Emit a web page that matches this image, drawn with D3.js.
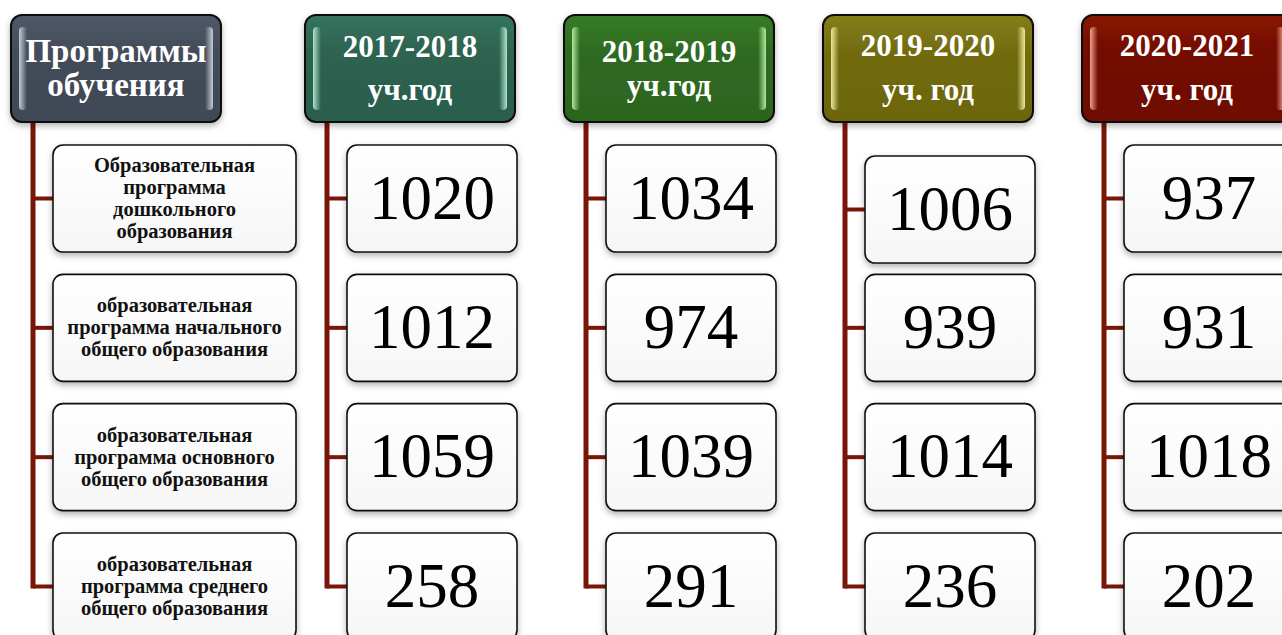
<!DOCTYPE html>
<html>
<head>
<meta charset="utf-8">
<script src="https://cdn.jsdelivr.net/npm/d3@7"></script>
<style>
  html, body { margin: 0; padding: 0; background: #fff; overflow: hidden; }
  svg { display: block; }
</style>
</head>
<body>
<div id="chart"></div>
<script>
// data
const programTitle = ["Программы", "обучения"];
const programs = [
    ["Образовательная", "программа", "дошкольного", "образования"],
    ["образовательная", "программа начального", "общего образования"],
    ["образовательная", "программа основного", "общего образования"],
    ["образовательная", "программа среднего", "общего образования"]
];
const years = ["2017-2018", "2018-2019", "2019-2020", "2020-2021"];
const yearUnits = ["уч.год", "уч.год", "уч. год", "уч. год"];
const counts = [
    [1020, 1012, 1059, 258],
    [1034, 974, 1039, 291],
    [1006, 939, 1014, 236],
    [937, 931, 1018, 202]
];

// header colours: label column first, then one per year
const headColors = ["#434c59", "#2d6350", "#2e6a21", "#726b11", "#731005"];
const glossColors = ["#c9d2dc", "#b4ecd2", "#b6f0a0", "#f2f0a0", "#f5a898"];

const width = 1282;
const height = 635;
const lineColor = "#7a1508";
const serif = "'Liberation Serif', 'Times New Roman', serif";

const headW = 210, headH = 107, headTop = 15;
const boxH = 107;
const lineOff = 22;   // connector x from column left
const boxOff = 42;    // child box x from column left

const xYear = d3.scaleLinear().domain([0, years.length - 1]).range([305, 1082]);
const xLabel = 11;
const yRow = d3.scaleLinear().domain([0, programs.length - 1]).range([145, 533]);

let svg = d3.select("#chart").append("svg")
    .attr("width", width)
    .attr("height", height)
    .attr("viewBox", [0, 0, width, height]);

let defs = svg.append("defs");

let shadow = defs.append("filter").attr("id", "shadow")
    .attr("x", "-10%").attr("y", "-10%").attr("width", "120%").attr("height", "130%");
shadow.append("feDropShadow")
    .attr("dx", 0).attr("dy", 3).attr("stdDeviation", 3)
    .attr("flood-color", "#000").attr("flood-opacity", 0.3);

headColors.forEach((c, i) => {
    let g = defs.append("linearGradient").attr("id", "head" + i)
        .attr("x1", 0).attr("y1", 0).attr("x2", 0).attr("y2", 1);
    g.append("stop").attr("offset", "0%").attr("stop-color", d3.color(c).brighter(0.45));
    g.append("stop").attr("offset", "35%").attr("stop-color", c);
    g.append("stop").attr("offset", "100%").attr("stop-color", d3.color(c).darker(0.15));

    let gl = defs.append("linearGradient").attr("id", "glossL" + i)
        .attr("x1", 0).attr("y1", 0).attr("x2", 1).attr("y2", 0);
    gl.append("stop").attr("offset", "0%").attr("stop-color", glossColors[i]).attr("stop-opacity", 0.95);
    gl.append("stop").attr("offset", "100%").attr("stop-color", glossColors[i]).attr("stop-opacity", 0);
    let gr = defs.append("linearGradient").attr("id", "glossR" + i)
        .attr("x1", 1).attr("y1", 0).attr("x2", 0).attr("y2", 0);
    gr.append("stop").attr("offset", "0%").attr("stop-color", glossColors[i]).attr("stop-opacity", 0.95);
    gr.append("stop").attr("offset", "100%").attr("stop-color", glossColors[i]).attr("stop-opacity", 0);
});

let boxGrad = defs.append("linearGradient").attr("id", "boxFill")
    .attr("x1", 0).attr("y1", 0).attr("x2", 0).attr("y2", 1);
boxGrad.append("stop").attr("offset", "0%").attr("stop-color", "#ffffff");
boxGrad.append("stop").attr("offset", "100%").attr("stop-color", "#f6f6f6");

// one column: header + connector + children
function drawColumn(x0, idx, rows, headLines, headBaselines, headSize, childFn) {
    let g = svg.append("g");

    // connector
    let lastMid = d3.max(rows, r => r.y + boxH / 2);
    g.append("line")
        .attr("x1", x0 + lineOff).attr("x2", x0 + lineOff)
        .attr("y1", headTop + headH - 4).attr("y2", lastMid + 2)
        .attr("stroke", lineColor).attr("stroke-width", 5);
    g.selectAll("line.branch").data(rows).join("line")
        .attr("class", "branch")
        .attr("x1", x0 + lineOff).attr("x2", d => d.x)
        .attr("y1", d => d.y + boxH / 2).attr("y2", d => d.y + boxH / 2)
        .attr("stroke", lineColor).attr("stroke-width", 4);

    // header
    g.append("rect")
        .attr("x", x0).attr("y", headTop)
        .attr("width", headW).attr("height", headH)
        .attr("rx", 11)
        .attr("fill", "url(#head" + idx + ")")
        .attr("stroke", "#111").attr("stroke-width", 2)
        .attr("filter", "url(#shadow)");
    g.append("rect")
        .attr("x", x0 + 8).attr("y", headTop + 12)
        .attr("width", 8).attr("height", headH - 24).attr("rx", 4)
        .attr("fill", "url(#glossL" + idx + ")");
    g.append("rect")
        .attr("x", x0 + headW - 16).attr("y", headTop + 12)
        .attr("width", 8).attr("height", headH - 24).attr("rx", 4)
        .attr("fill", "url(#glossR" + idx + ")");
    g.selectAll("text.head").data(headLines).join("text")
        .attr("class", "head")
        .attr("x", x0 + headW / 2)
        .attr("y", (d, i) => headBaselines[i])
        .attr("text-anchor", "middle")
        .attr("font-family", serif)
        .attr("font-weight", "bold")
        .attr("font-size", headSize)
        .attr("fill", "#fff")
        .text(d => d);

    // children
    let cells = g.selectAll("g.cell").data(rows).join("g").attr("class", "cell");
    cells.append("rect")
        .attr("x", d => d.x).attr("y", d => d.y)
        .attr("width", d => d.w).attr("height", boxH)
        .attr("rx", 10)
        .attr("fill", "url(#boxFill)")
        .attr("stroke", "#111").attr("stroke-width", 1.6)
        .attr("filter", "url(#shadow)");
    cells.each(function (d) { childFn(d3.select(this), d); });
}

// label column
let labelRows = programs.map((p, i) => ({x: xLabel + boxOff, y: yRow(i), w: 243, lines: p}));
drawColumn(xLabel, 0, labelRows, programTitle, [62, 96], 33, (sel, d) => {
    let n = d.lines.length;
    let cy = d.y + boxH / 2;
    sel.selectAll("text").data(d.lines).join("text")
        .attr("x", d.x + d.w / 2)
        .attr("y", (t, i) => cy + (i - (n - 1) / 2) * 22 + 6.5)
        .attr("text-anchor", "middle")
        .attr("font-family", serif)
        .attr("font-weight", "bold")
        .attr("font-size", 20.5)
        .attr("fill", "#111")
        .text(t => t);
});

// year columns
const headBase = [[57, 100], [62, 96], [56, 100], [56, 100]];
years.forEach((yr, c) => {
    let x0 = xYear(c);
    let rows = counts[c].map((v, r) => ({
        x: x0 + boxOff,
        // the first box of 2019-2020 sits a bit lower in the original
        y: yRow(r) + (c === 2 && r === 0 ? 11 : 0),
        w: 170,
        value: v
    }));
    drawColumn(x0, c + 1, rows, [yr, yearUnits[c]], headBase[c], 31, (sel, d) => {
        sel.append("text")
            .attr("x", d.x + d.w / 2)
            .attr("y", d.y + boxH / 2 + 20)
            .attr("text-anchor", "middle")
            .attr("font-family", serif)
            .attr("font-size", 63)
            .attr("fill", "#000")
            .text(d.value);
    });
});
</script>
</body>
</html>
